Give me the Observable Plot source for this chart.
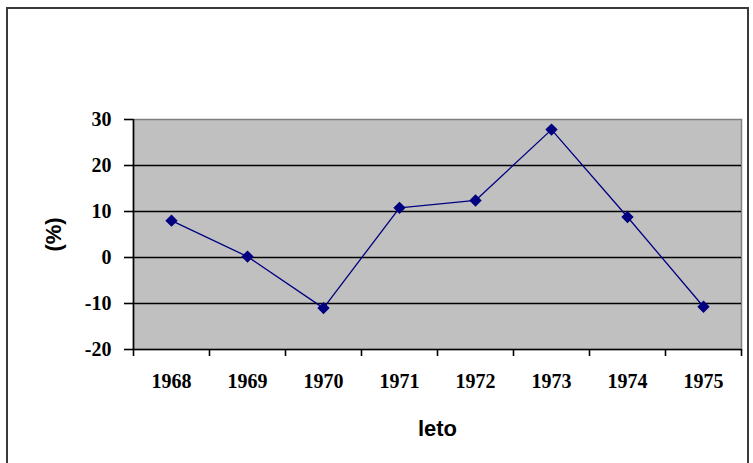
<!DOCTYPE html>
<html>
<head>
<meta charset="utf-8">
<script src="https://cdn.jsdelivr.net/npm/d3@7"></script>
<script src="https://cdn.jsdelivr.net/npm/@observablehq/plot@0.6"></script>
<style>
  html, body { margin: 0; padding: 0; background: #fff; }
  #wrap { position: relative; width: 753px; height: 463px; overflow: hidden; }
  #border { position: absolute; left: 6px; top: 7px; width: 743px; height: 480px; border: 2px solid #3a3a3a; box-sizing: border-box; }
  #chart { position: absolute; left: 0; top: 0; }
</style>
</head>
<body>
<div id="wrap"><div id="border"></div><div id="chart"></div></div>
<script>
const years = ["1968", "1969", "1970", "1971", "1972", "1973", "1974", "1975"];
const values = [8, 0.2, -11, 10.8, 12.4, 27.8, 8.8, -10.7];
const yTicks = [-20, -10, 0, 10, 20, 30];
const gridValues = [-10, 0, 10, 20];
const yLabel = "(%)";
const xLabel = "leto";

const data = years.map((year, i) => ({pos: i + 0.5, year, value: values[i]}));
const boundaries = d3.range(years.length + 1);
const centers = years.map((_, i) => i + 0.5);

const serif = "'Liberation Serif', 'Times New Roman', serif";
const sans = "'Liberation Sans', Arial, sans-serif";

const chart = Plot.plot({
  width: 753,
  height: 463,
  marginLeft: 133,
  marginRight: 12,
  marginTop: 119,
  marginBottom: 114,
  style: {background: "transparent", color: "#000"},
  x: {domain: [0, years.length], label: null},
  y: {domain: [-20, 30], label: null},
  marks: [
    Plot.frame({fill: "#c0c0c0", stroke: "#808080", strokeWidth: 1.5}),
    Plot.ruleY(gridValues, {stroke: "#000", strokeWidth: 1.6}),
    Plot.ruleY([-20], {stroke: "#000", strokeWidth: 1.6}),
    Plot.ruleX([0], {stroke: "#000", strokeWidth: 1.6}),
    Plot.axisY({ticks: yTicks, tickSize: 9, tickPadding: 13, label: null,
      tickFormat: d => String(d),
      fontFamily: serif, fontWeight: "bold", fontSize: 20, strokeWidth: 1.6}),
    Plot.axisX({ticks: boundaries, tickSize: 7, tickFormat: () => "", label: null, strokeWidth: 1.6}),
    Plot.axisX({ticks: centers, tickSize: 0, tickPadding: 24, label: null,
      tickFormat: d => years[Math.floor(d)],
      fontFamily: serif, fontWeight: "bold", fontSize: 20}),
    Plot.line(data, {x: "pos", y: "value", stroke: "#000080", strokeWidth: 1.3}),
    Plot.dot(data, {x: "pos", y: "value", symbol: "diamond2", fill: "#000080", stroke: "#000080", r: 4.6}),
    Plot.text([yLabel], {frameAnchor: "left", dx: -80, rotate: -90, text: d => d,
      textAnchor: "middle", lineAnchor: "middle",
      fontFamily: sans, fontWeight: "bold", fontSize: 22, fill: "#000"}),
    Plot.text([xLabel], {frameAnchor: "bottom", dy: 79, text: d => d,
      textAnchor: "middle", lineAnchor: "middle",
      fontFamily: sans, fontWeight: "bold", fontSize: 22, fill: "#000"})
  ]
});
document.getElementById("chart").appendChild(chart);
</script>
</body>
</html>
